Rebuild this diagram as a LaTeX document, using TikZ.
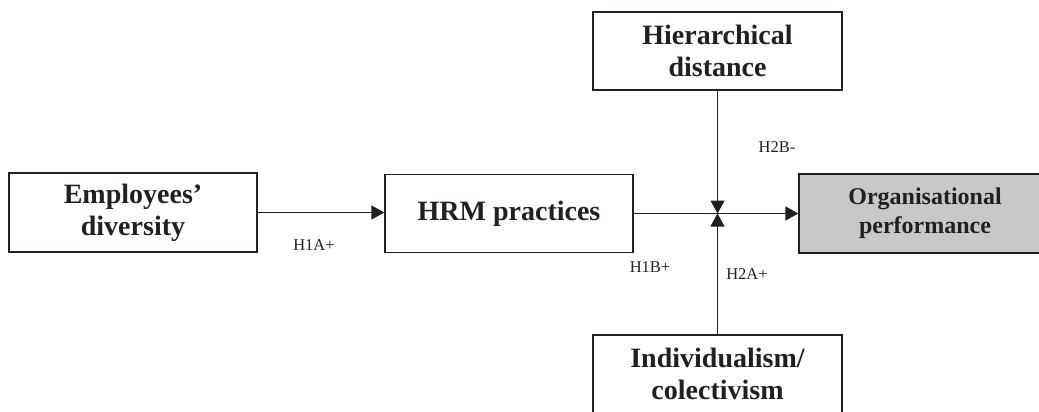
\documentclass[tikz,border=0pt]{standalone}
\usepackage{fontspec}
\setmainfont{Liberation Serif}
\usetikzlibrary{arrows.meta}
\definecolor{boxgray}{RGB}{200,200,200}
\definecolor{ink}{RGB}{35,31,32}
\begin{document}
\begin{tikzpicture}[x=1pt,y=-1pt,
  varbox/.style={draw=ink,line width=1.3pt,align=center,inner sep=0pt,
    font=\fontsize{28}{32}\selectfont\bfseries,text=ink},
  lbl/.style={font=\fontsize{16.5}{18}\selectfont,text=ink,inner sep=0pt},
  conn/.style={draw=ink,line width=1.4pt,-{Triangle[length=13pt,width=14pt]}},
  vconn/.style={draw=ink,line width=1pt,-{Triangle[length=13pt,width=14pt]}}]
\clip (0,0) rectangle (1039,412);
\useasboundingbox (0,0) rectangle (1039,412);
\node[varbox,minimum width=248pt,minimum height=79pt] (emp) at (133,212.5) {Employees'\\diversity};
\node[varbox,minimum width=248pt,minimum height=78pt] (hrm) at (509,213.5) {HRM practices};
\node[varbox,fill=boxgray,minimum width=252pt,minimum height=79pt,
  font=\fontsize{24}{29}\selectfont\bfseries] (org) at (925,213.5) {Organisational\\performance};
\node[varbox,minimum width=249pt,minimum height=78pt] (hier) at (717.5,51) {Hierarchical\\distance};
\node[varbox,minimum width=249pt,minimum height=78pt] (ind) at (717.5,374) {Individualism/\\colectivism};
\coordinate (j) at (717.5,213.5);
\draw[conn] (emp.east |- 0,212.5) -- (hrm.west |- 0,212.5);
\draw[conn] (hrm.east) -- (org.west);
\draw[vconn] (hier.south) -- (j);
\draw[vconn] (ind.north) -- (j);
\node[lbl] (h1a) at (314,245) {H1A+};
\node[lbl] (h2b) at (777,147) {H2B-};
\node[lbl] (h1b) at (650,267) {H1B+};
\node[lbl] (h2a) at (747,274) {H2A+};
\end{tikzpicture}
\end{document}
